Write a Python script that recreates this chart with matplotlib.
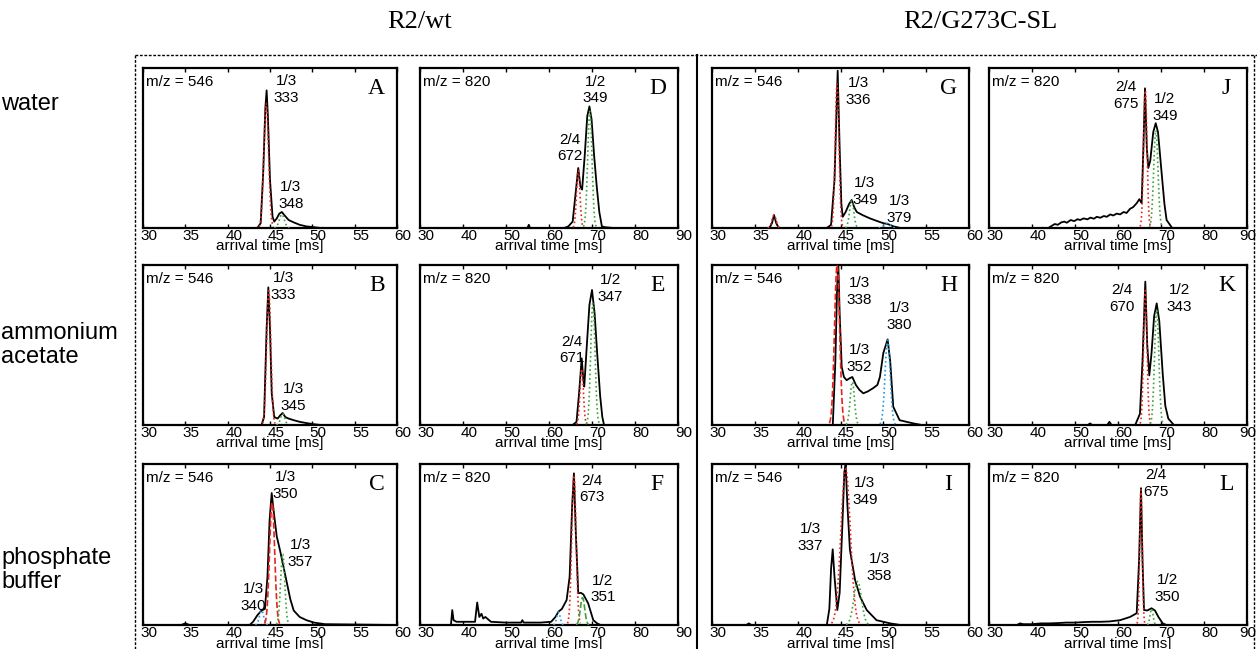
import numpy as np
import matplotlib.pyplot as plt
from matplotlib.lines import Line2D
from matplotlib.transforms import ScaledTranslation

SANS = ["Liberation Sans", "DejaVu Sans"]
SERIF = ["Liberation Serif", "DejaVu Serif"]
RED = "#e8231c"
GREEN = "#3da33a"
BLUE = "#1f9bd7"

# ---- data (arrival time [ms], normalised intensity) ----
row_names = ["water", "ammonium\nacetate", "phosphate\nbuffer"]
group_titles = ["R2/wt", "R2/G273C-SL"]
mz_values = [546, 820, 546, 820]
x_ranges = [(30, 60), (30, 90), (30, 60), (30, 90)]
x_ticks = [[30, 35, 40, 45, 50, 55, 60], [30, 40, 50, 60, 70, 80, 90]]

trace_A_x = [30, 43.5, 43.9, 44.2, 44.45, 44.6, 44.75, 45.0, 45.3, 45.5, 45.8, 46.1, 46.4, 46.7, 47.2, 47.8, 48.5, 49.3, 50.2, 51, 60]
trace_A_y = [0, 0, 0.03, 0.35, 0.75, 0.86, 0.70, 0.30, 0.07, 0.04, 0.06, 0.09, 0.10, 0.08, 0.05, 0.035, 0.02, 0.01, 0.005, 0, 0]
trace_B_x = [30, 44.0, 44.3, 44.6, 44.8, 45.0, 45.2, 45.5, 45.9, 46.2, 46.5, 46.8, 47.2, 47.8, 48.5, 49.3, 50.2, 51, 60]
trace_B_y = [0, 0, 0.05, 0.6, 0.86, 0.6, 0.2, 0.05, 0.04, 0.06, 0.075, 0.05, 0.04, 0.03, 0.02, 0.012, 0.005, 0, 0]
trace_C_x = [30, 34.5, 35.0, 35.5, 42.6, 43.0, 43.5, 44.0, 44.4, 44.7, 44.95, 45.2, 45.45, 45.8, 46.2, 46.6, 47.0, 47.4, 47.8, 48.5, 49.3, 50.2, 51.5, 60]
trace_C_y = [0, 0, 0.01, 0, 0, 0.02, 0.06, 0.09, 0.10, 0.3, 0.65, 0.82, 0.7, 0.55, 0.46, 0.36, 0.26, 0.16, 0.09, 0.05, 0.03, 0.015, 0.005, 0]
trace_D_x = [30, 55, 55.3, 55.6, 63.5, 64.5, 65.5, 66.2, 66.8, 67.3, 67.7, 68.3, 68.9, 69.4, 69.9, 70.5, 71.1, 71.7, 72.3, 73, 75, 90]
trace_D_y = [0, 0, 0.02, 0, 0, 0.01, 0.04, 0.22, 0.375, 0.26, 0.24, 0.45, 0.70, 0.76, 0.68, 0.45, 0.26, 0.10, 0.01, 0.005, 0, 0]
trace_E_x = [30, 65.5, 66.4, 67.0, 67.6, 68.0, 68.2, 68.8, 69.4, 70.0, 70.6, 71.2, 71.9, 72.4, 72.8, 90]
trace_E_y = [0, 0, 0.02, 0.2, 0.417, 0.28, 0.24, 0.5, 0.75, 0.844, 0.7, 0.45, 0.18, 0.05, 0, 0]
trace_F_x = [30, 37.2, 37.5, 37.8, 38.5, 42.8, 43.3, 43.8, 44.3, 44.7, 45.2, 46.5, 50, 53.5, 53.8, 54.1, 58, 60.5, 61.5, 62.2, 63.0, 64.1, 64.8, 65.4, 65.8, 66.2, 66.8, 67.4, 68.0, 69.1, 70.3, 71.2, 72, 90]
trace_F_y = [0, 0, 0.093, 0.03, 0.02, 0.02, 0.14, 0.05, 0.07, 0.04, 0.05, 0.02, 0.015, 0.015, 0.03, 0.015, 0.015, 0.02, 0.05, 0.083, 0.10, 0.155, 0.3, 0.75, 0.942, 0.6, 0.197, 0.2, 0.19, 0.135, 0.03, 0.01, 0, 0]
trace_G_x = [30, 36.7, 37.0, 37.24, 37.5, 37.8, 43.4, 43.9, 44.3, 44.67, 44.9, 45.1, 45.26, 45.6, 46.0, 46.3, 46.6, 46.9, 47.6, 48.44, 49.2, 50.0, 50.5, 51.2, 52, 60]
trace_G_y = [0, 0, 0.03, 0.081, 0.03, 0, 0, 0.02, 0.3, 0.983, 0.5, 0.15, 0.07, 0.1, 0.15, 0.175, 0.13, 0.10, 0.08, 0.06, 0.045, 0.03, 0.025, 0.01, 0, 0]
trace_H_x = [30, 44.1, 44.4, 44.6, 44.74, 44.9, 45.14, 45.4, 45.72, 46.0, 46.38, 46.8, 47.2, 47.66, 48.2, 48.8, 49.3, 49.6, 50.0, 50.5, 50.8, 51.16, 51.9, 52.7, 53.5, 54.5, 60]
trace_H_y = [0, 0, 0.4, 0.85, 1.02, 0.7, 0.364, 0.3, 0.28, 0.29, 0.30, 0.25, 0.22, 0.198, 0.21, 0.23, 0.25, 0.30, 0.45, 0.535, 0.4, 0.114, 0.03, 0.02, 0.01, 0, 0]
trace_I_x = [30, 34, 34.3, 34.6, 43.4, 43.7, 43.9, 44.09, 44.3, 44.63, 44.9, 45.2, 45.45, 45.6, 45.8, 46.1, 46.7, 47.28, 48.06, 49.2, 50.8, 52, 60]
trace_I_y = [0, 0, 0.01, 0, 0, 0.1, 0.35, 0.47, 0.3, 0.093, 0.2, 0.6, 0.95, 0.994, 0.75, 0.466, 0.28, 0.176, 0.093, 0.03, 0.01, 0, 0]
trace_J_x = [30, 43.8, 44.5, 45.3, 46.0, 46.8, 47.5, 48.1, 49.0, 49.8, 50.6, 51.2, 52.0, 52.9, 53.6, 54.4, 55.05, 55.9, 56.7, 57.4, 58.2, 58.9, 59.7, 60.5, 61.3, 62.0, 62.8, 63.5, 64.35, 64.96, 65.5, 65.9, 66.28, 66.7, 67.05, 67.5, 68.2, 68.77, 69.3, 70.16, 70.8, 71.3, 72.6, 90]
trace_J_y = [0, 0, 0.012, 0.025, 0.02, 0.035, 0.04, 0.033, 0.05, 0.043, 0.055, 0.05, 0.06, 0.054, 0.065, 0.058, 0.07, 0.064, 0.075, 0.07, 0.085, 0.078, 0.09, 0.085, 0.1, 0.094, 0.12, 0.13, 0.155, 0.18, 0.155, 0.5, 0.873, 0.5, 0.375, 0.42, 0.6, 0.655, 0.6, 0.34, 0.15, 0.05, 0, 0]
trace_K_x = [30, 53, 53.5, 54, 57.5, 58, 58.5, 64.0, 65.1, 65.7, 66.35, 66.8, 67.28, 67.8, 68.4, 69.0, 69.6, 70.4, 71.0, 71.7, 73.0, 90]
trace_K_y = [0, 0, 0.01, 0, 0, 0.02, 0, 0, 0.07, 0.4, 0.896, 0.5, 0.31, 0.45, 0.68, 0.76, 0.65, 0.32, 0.12, 0.04, 0, 0]
trace_L_x = [30, 36.5, 37.2, 38, 40, 42, 44, 46, 48, 50, 52, 54, 56, 58, 60.5, 62.8, 64.35, 64.9, 65.35, 65.7, 66.05, 66.8, 67.8, 68.6, 69.4, 70.4, 71.3, 90]
trace_L_y = [0, 0, 0.01, 0.005, 0.005, 0.01, 0.01, 0.012, 0.015, 0.015, 0.018, 0.02, 0.02, 0.022, 0.03, 0.05, 0.073, 0.4, 0.85, 0.4, 0.093, 0.09, 0.104, 0.09, 0.05, 0.01, 0, 0]

# fitted components: (centre, amplitude, sigma, colour, linestyle)
fits_A = [(44.55, 0.78, 0.28, RED, ":"), (46.4, 0.085, 0.3, GREEN, ":")]
fits_B = [(44.85, 0.84, 0.25, RED, ":"), (46.5, 0.07, 0.25, GREEN, ":")]
fits_C = [(44.0, 0.09, 0.25, BLUE, ":"), (45.25, 0.76, 0.3, RED, "--"), (46.5, 0.44, 0.25, GREEN, ":")]
fits_D = [(66.8, 0.36, 0.4, RED, ":"), (69.5, 0.73, 0.5, GREEN, ":")]
fits_E = [(67.6, 0.35, 0.4, RED, ":"), (70.2, 0.76, 0.5, GREEN, ":")]
fits_F = [(62.2, 0.08, 0.4, BLUE, ":"), (65.8, 0.93, 0.5, RED, ":"), (67.8, 0.17, 0.5, GREEN, "--")]
fits_G = [(37.24, 0.08, 0.25, RED, ":"), (44.6, 0.9, 0.22, RED, ":"), (46.3, 0.17, 0.25, GREEN, ":"), (50.5, 0.03, 0.35, BLUE, ":")]
fits_H = [(44.6, 1.0, 0.3, RED, "--"), (46.38, 0.27, 0.25, GREEN, ":"), (50.5, 0.53, 0.3, BLUE, ":")]
fits_I = [(45.6, 0.97, 0.55, RED, ":"), (47.0, 0.27, 0.45, GREEN, ":")]
fits_J = [(66.35, 0.86, 0.4, RED, ":"), (68.8, 0.61, 0.5, GREEN, ":")]
fits_K = [(66.35, 0.84, 0.4, RED, ":"), (69.0, 0.72, 0.5, GREEN, ":")]
fits_L = [(65.35, 0.84, 0.3, RED, ":"), (67.8, 0.1, 0.35, GREEN, ":")]

labels_A = [(46.9, 0.865, "1/3\n333"), (47.45, 0.205, "1/3\n348")]
labels_B = [(46.6, 0.864, "1/3\n333"), (47.75, 0.173, "1/3\n345")]
labels_C = [(46.8, 0.865, "1/3\n350"), (48.55, 0.445, "1/3\n357"), (43.05, 0.172, "1/3\n340")]
labels_D = [(70.7, 0.862, "1/2\n349"), (64.9, 0.5, "2/4\n672")]
labels_E = [(74.2, 0.854, "1/2\n347"), (65.3, 0.469, "2/4\n671")]
labels_F = [(69.9, 0.845, "2/4\n673"), (72.5, 0.224, "1/2\n351")]
labels_G = [(47.1, 0.853, "1/3\n336"), (47.85, 0.228, "1/3\n349"), (51.9, 0.115, "1/3\n379")]
labels_H = [(47.2, 0.833, "1/3\n338"), (47.2, 0.417, "1/3\n352"), (51.9, 0.68, "1/3\n380")]
labels_I = [(47.85, 0.828, "1/3\n349"), (41.45, 0.542, "1/3\n337"), (49.5, 0.356, "1/3\n358")]
labels_J = [(61.8, 0.83, "2/4\n675"), (70.9, 0.755, "1/2\n349")]
labels_K = [(60.9, 0.79, "2/4\n670"), (74.2, 0.79, "1/2\n343")]
labels_L = [(68.8, 0.88, "2/4\n675"), (71.5, 0.228, "1/2\n350")]

# panel letter, column, row, trace, fits, labels
panels = [
    ("A", 0, 0, trace_A_x, trace_A_y, fits_A, labels_A),
    ("B", 0, 1, trace_B_x, trace_B_y, fits_B, labels_B),
    ("C", 0, 2, trace_C_x, trace_C_y, fits_C, labels_C),
    ("D", 1, 0, trace_D_x, trace_D_y, fits_D, labels_D),
    ("E", 1, 1, trace_E_x, trace_E_y, fits_E, labels_E),
    ("F", 1, 2, trace_F_x, trace_F_y, fits_F, labels_F),
    ("G", 2, 0, trace_G_x, trace_G_y, fits_G, labels_G),
    ("H", 2, 1, trace_H_x, trace_H_y, fits_H, labels_H),
    ("I", 2, 2, trace_I_x, trace_I_y, fits_I, labels_I),
    ("J", 3, 0, trace_J_x, trace_J_y, fits_J, labels_J),
    ("K", 3, 1, trace_K_x, trace_K_y, fits_K, labels_K),
    ("L", 3, 2, trace_L_x, trace_L_y, fits_L, labels_L),
]

# ---- layout in pixels ----
W, H = 1257, 649
COL_X = [(143, 397), (420, 678), (712, 969), (989, 1247)]
ROW_Y = [(68, 228), (265, 425), (464, 625)]

fig = plt.figure(figsize=(W / 100, H / 100), dpi=100)
# tick labels in the original sit a few pixels right of their ticks
label_shift = ScaledTranslation(6 / 100, 0, fig.dpi_scale_trans)
edge_shift = ScaledTranslation(1 / 100, 0, fig.dpi_scale_trans)


def px_axes(left, top, right, bottom):
    return fig.add_axes([left / W, 1 - bottom / H, (right - left) / W, (bottom - top) / H])


for letter, col, row, tx, ty, fits, labels in panels:
    (l, r), (t, b) = COL_X[col], ROW_Y[row]
    ax = px_axes(l, t, r, b)
    ax.plot(tx, ty, color="black", lw=1.3, zorder=2)
    for c, a, s, colr, ls in fits:
        xs = np.linspace(c - 3 * s, c + 3 * s, 80)
        ax.plot(xs, a * np.exp(-0.5 * ((xs - c) / s) ** 2), color=colr, lw=1.2, ls=ls, zorder=3)
    for lx, ly, txt in labels:
        ax.text(lx, ly, txt, ha="center", va="center", fontsize=11, family=SANS, linespacing=1.25, zorder=4)
    ax.set_xlim(*x_ranges[col])
    ax.set_ylim(0, 1)
    ax.set_xticks(x_ticks[col % 2])
    ax.set_yticks([])
    ax.tick_params(axis="x", direction="in", top=True, length=3, width=1, pad=1, labelsize=11)
    ticklabels = ax.get_xticklabels()
    for i, lab in enumerate(ticklabels):
        lab.set_family(SANS)
        last_edge = col == 3 and i == len(ticklabels) - 1
        lab.set_transform(lab.get_transform() + (edge_shift if last_edge else label_shift))
    for sp in ax.spines.values():
        sp.set_linewidth(1.6)
    ax.text(0.012, 0.91, f"m/z = {mz_values[col]}", transform=ax.transAxes, ha="left", va="center",
            fontsize=11, family=SANS)
    ax.text(0.92, 0.87, letter, transform=ax.transAxes, ha="center", va="center", fontsize=17, family=SERIF)
    ax.text(0.5, -0.115, "arrival time [ms]", transform=ax.transAxes, ha="center", va="center",
            fontsize=11, family=SANS)

# group titles and row names
for title, cx in zip(group_titles, [420, 980]):
    fig.text(cx / W, 1 - 22 / H, title, ha="center", va="center", fontsize=19, family=SERIF)
for name, cy in zip(row_names, [104, 345, 570]):
    fig.text(1 / W, 1 - cy / H, name, ha="left", va="center", fontsize=17, family=SANS, linespacing=1.15)

# frame lines between the groups
fig.add_artist(Line2D([135 / W, 1], [1 - 55 / H, 1 - 55 / H], color="black", lw=1, ls=(0, (2, 1.2))))
fig.add_artist(Line2D([135 / W, 135 / W], [0, 1 - 55 / H], color="black", lw=1, ls=(0, (2, 1.2))))
fig.add_artist(Line2D([1254 / W, 1254 / W], [0, 1 - 55 / H], color="black", lw=1, ls=(0, (2, 1.2))))
fig.add_artist(Line2D([697 / W, 697 / W], [0, 1 - 55 / H], color="black", lw=1.5))

fig.savefig("out.png", dpi=100)
